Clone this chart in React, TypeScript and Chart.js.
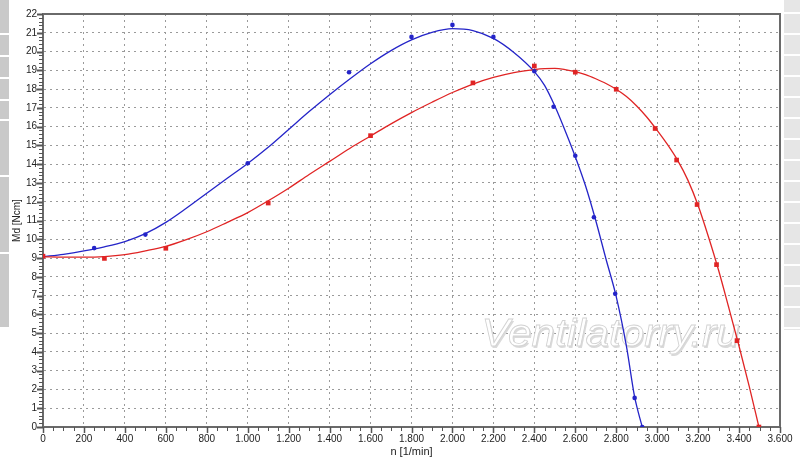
import React, { useEffect, useRef } from "react";
import { Chart, registerables } from "chart.js";

Chart.register(...registerables);

// fitted curves
const blueFitN = [0, 100, 200, 300, 400, 500, 600, 700, 800, 900, 1000, 1100, 1200, 1300, 1400, 1500, 1600, 1700, 1800, 1900, 2000, 2100, 2200, 2300, 2400, 2450, 2500, 2550, 2600, 2650, 2700, 2750, 2800, 2850, 2890, 2927];
const blueFitMd = [9.07, 9.2, 9.38, 9.6, 9.88, 10.3, 10.9, 11.65, 12.45, 13.25, 14.04, 14.9, 15.85, 16.8, 17.7, 18.55, 19.35, 20.05, 20.62, 21.02, 21.22, 21.12, 20.7, 19.95, 18.93, 18.2, 17.1, 15.8, 14.4, 12.85, 11.0, 8.95, 6.95, 4.3, 1.6, 0];

const redFitN = [0, 100, 200, 300, 400, 500, 600, 700, 800, 900, 1000, 1100, 1200, 1300, 1400, 1500, 1600, 1700, 1800, 1900, 2000, 2100, 2200, 2300, 2400, 2450, 2500, 2550, 2600, 2650, 2700, 2750, 2800, 2850, 2900, 2950, 3000, 3050, 3100, 3150, 3200, 3250, 3300, 3350, 3400, 3450, 3497];
const redFitMd = [9.07, 9.05, 9.05, 9.08, 9.18, 9.38, 9.62, 9.98, 10.4, 10.9, 11.42, 12.05, 12.72, 13.45, 14.15, 14.85, 15.5, 16.15, 16.75, 17.3, 17.82, 18.27, 18.62, 18.88, 19.04, 19.09, 19.1, 19.04, 18.93, 18.77, 18.55, 18.3, 17.99, 17.6, 17.1, 16.5, 15.8, 15.05, 14.2, 13.15, 11.8, 10.15, 8.35, 6.35, 4.3, 2.15, 0];

// measured points
const bluePtN = [0, 250, 500, 1000, 1495, 1800, 2000, 2200, 2400, 2494, 2600, 2691, 2795, 2890, 2927];
const bluePtMd = [9.1, 9.53, 10.25, 14.05, 18.9, 20.78, 21.42, 20.78, 18.95, 17.06, 14.45, 11.17, 7.1, 1.55, 0];

const redPtN = [0, 300, 600, 1100, 1600, 2100, 2400, 2600, 2800, 2990, 3095, 3195, 3290, 3390, 3497];
const redPtMd = [9.1, 8.98, 9.52, 11.93, 15.52, 18.33, 19.23, 18.9, 17.99, 15.9, 14.22, 11.85, 8.65, 4.6, 0];

const xTitle = "n [1/min]";
const yTitle = "Md [Ncm]";
const watermark = "Ventilatorry.ru";

const BLUE = "#2424c8";
const RED = "#e02424";

const pts = (xs: number[], ys: number[]) => xs.map((x, i) => ({ x, y: ys[i] }));

const fmtThousands = (v: number) => {
  if (v >= 1000) {
    const th = Math.floor(v / 1000);
    const rest = String(Math.round(v % 1000)).padStart(3, "0");
    return `${th}.${rest}`;
  }
  return String(v);
};

const decoPlugin = {
  id: "deco",
  beforeDatasetsDraw(chart: any) {
    const { ctx, chartArea: a } = chart;
    ctx.save();
    ctx.font = "italic 39px 'Liberation Sans', Arial, sans-serif";
    const w = ctx.measureText(watermark).width;
    const targetW = 258;
    const sx = targetW / w;
    const x0 = a.left + (a.right - a.left) * 0.595;
    const y0 = a.top + (a.bottom - a.top) * 0.805;
    ctx.translate(x0, y0);
    ctx.scale(sx, 1);
    ctx.fillStyle = "#dadada";
    ctx.fillText(watermark, 1.2, 1.2);
    ctx.fillStyle = "#ffffff";
    ctx.fillText(watermark, 0, 0);
    ctx.lineWidth = 0.8;
    ctx.strokeStyle = "#d2d2d2";
    ctx.strokeText(watermark, 0, 0);
    ctx.restore();
  },
  afterDraw(chart: any) {
    const { ctx, chartArea: a, scales } = chart;
    const x = scales.x;
    const y = scales.y;
    ctx.save();
    ctx.strokeStyle = "#555";
    // y minor / major ticks
    for (let i = 0; i <= 110; i++) {
      const v = i * 0.2;
      const major = i % 5 === 0;
      const py = Math.round(y.getPixelForValue(v)) + 0.5;
      ctx.lineWidth = major ? 2 : 1;
      ctx.beginPath();
      ctx.moveTo(a.left - (major ? 6 : 4), py);
      ctx.lineTo(a.left, py);
      ctx.stroke();
    }
    // x minor / major ticks
    for (let i = 0; i <= 72; i++) {
      const v = i * 50;
      const major = i % 4 === 0;
      const px = Math.round(x.getPixelForValue(v)) + 0.5;
      ctx.lineWidth = major ? 1.5 : 1;
      ctx.beginPath();
      ctx.moveTo(px, a.bottom);
      ctx.lineTo(px, a.bottom + (major ? 6 : 4));
      ctx.stroke();
    }
    // frame top & right
    ctx.strokeStyle = "#6a6a6a";
    ctx.lineWidth = 2;
    ctx.beginPath();
    ctx.moveTo(a.left, a.top);
    ctx.lineTo(a.right, a.top);
    ctx.lineTo(a.right, a.bottom);
    ctx.stroke();
    ctx.restore();
  },
};

export default function App() {
  const ref = useRef<HTMLCanvasElement | null>(null);

  useEffect(() => {
    if (!ref.current) return;
    Chart.defaults.font.family = "'Liberation Sans', Arial, sans-serif";
    Chart.defaults.color = "#222";
    const gridColor = "#9a9a9a";
    const chart = new Chart(ref.current, {
      type: "scatter",
      data: {
        datasets: [
          {
            type: "scatter",
            label: "red points",
            data: pts(redPtN, redPtMd),
            pointStyle: "rect",
            pointRadius: 3.3,
            backgroundColor: RED,
            borderColor: RED,
            borderWidth: 0,
          },
          {
            type: "scatter",
            label: "blue points",
            data: pts(bluePtN, bluePtMd),
            pointStyle: "circle",
            pointRadius: 2.3,
            backgroundColor: BLUE,
            borderColor: BLUE,
            borderWidth: 0,
          },
          {
            type: "line",
            label: "red fit",
            data: pts(redFitN, redFitMd),
            borderColor: RED,
            borderWidth: 1.3,
            pointRadius: 0,
            cubicInterpolationMode: "monotone",
            fill: false,
          },
          {
            type: "line",
            label: "blue fit",
            data: pts(blueFitN, blueFitMd),
            borderColor: BLUE,
            borderWidth: 1.3,
            pointRadius: 0,
            cubicInterpolationMode: "monotone",
            fill: false,
          },
        ],
      } as any,
      options: {
        animation: false,
        responsive: false,
        devicePixelRatio: 1,
        layout: { padding: { top: 14, right: 20, left: 0, bottom: 0 } },
        plugins: {
          legend: { display: false },
          tooltip: { enabled: false },
        },
        scales: {
          x: {
            type: "linear",
            min: 0,
            max: 3600,
            ticks: {
              stepSize: 200,
              autoSkip: false,
              maxRotation: 0,
              padding: 6,
              color: "#222",
              font: { size: 10 },
              callback: (v: any) => fmtThousands(Number(v)),
            },
            grid: { color: gridColor, lineWidth: 1, drawTicks: false },
            border: { display: true, color: "#6a6a6a", width: 2, dash: [2, 4] },
            title: {
              display: true,
              text: xTitle,
              color: "#222",
              font: { size: 11 },
              padding: { top: 0, bottom: 6 },
            },
            afterFit: (s: any) => {
              s.height = 38;
            },
          },
          y: {
            type: "linear",
            min: 0,
            max: 22,
            ticks: {
              stepSize: 1,
              autoSkip: false,
              padding: 6,
              color: "#222",
              font: { size: 10 },
            },
            grid: { color: gridColor, lineWidth: 1, drawTicks: false },
            border: { display: true, color: "#6a6a6a", width: 2, dash: [2, 4] },
            title: {
              display: true,
              text: yTitle,
              color: "#222",
              font: { size: 10 },
              padding: { top: 11, bottom: 0 },
            },
            afterFit: (s: any) => {
              s.width = 43;
            },
          },
        },
      } as any,
      plugins: [decoPlugin],
    });
    return () => chart.destroy();
  }, []);

  const leftGaps = [33, 55, 77, 99, 119, 175, 252];
  const leftStops: string[] = [];
  let prev = 0;
  leftGaps.forEach((g) => {
    leftStops.push(`#c9c9c9 ${prev}px`, `#c9c9c9 ${g}px`, `#ffffff ${g}px`, `#ffffff ${g + 2}px`);
    prev = g + 2;
  });
  leftStops.push(`#c9c9c9 ${prev}px`, `#c9c9c9 327px`, `#ffffff 327px`);

  return (
    <div style={{ position: "absolute", left: 0, top: 0, width: 800, height: 465, background: "#fff", overflow: "hidden" }}>
      <div
        style={{
          position: "absolute",
          left: 0,
          top: 0,
          width: 9,
          height: 465,
          background: `linear-gradient(to bottom, ${leftStops.join(", ")})`,
        }}
      />
      <div
        style={{
          position: "absolute",
          left: 784,
          top: 0,
          width: 16,
          height: 330,
          background: "repeating-linear-gradient(to bottom, #e6e6e6 0px, #e6e6e6 12px, #ffffff 12px, #ffffff 14px, #e6e6e6 14px, #e6e6e6 21px)",
        }}
      />
      <canvas ref={ref} width={800} height={465} style={{ position: "absolute", left: 0, top: 0, width: 800, height: 465 }} />
    </div>
  );
}
